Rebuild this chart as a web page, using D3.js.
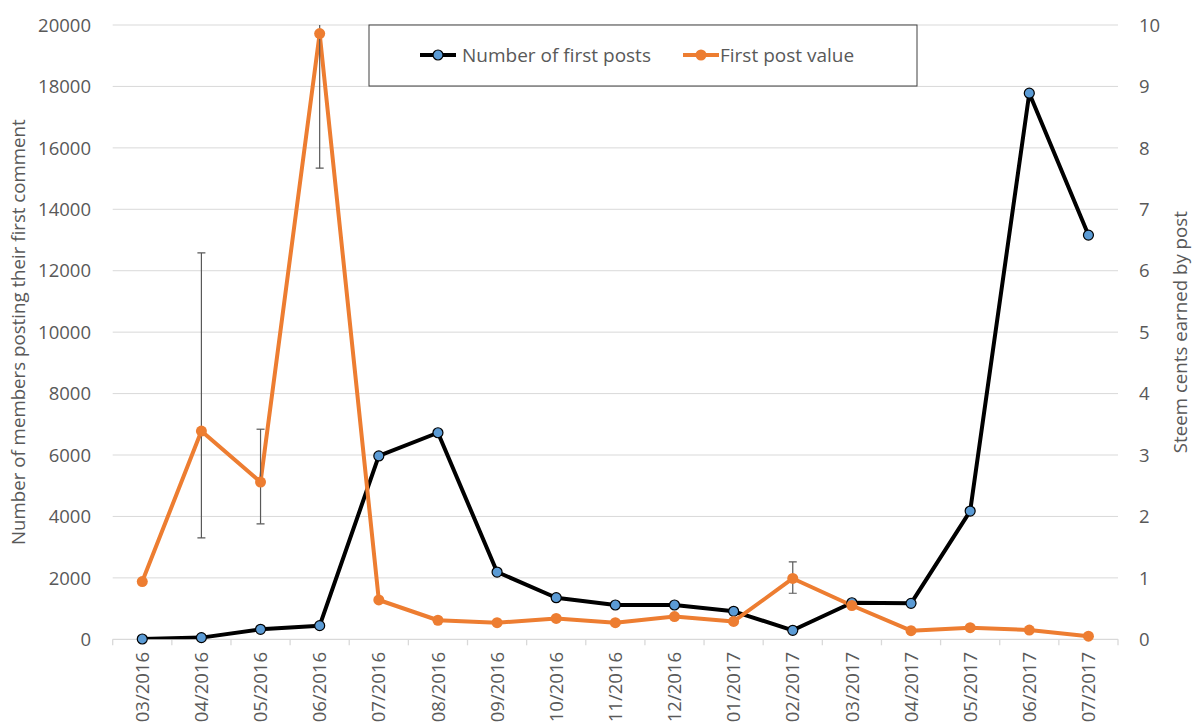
<!DOCTYPE html>
<html><head><meta charset="utf-8">
<script src="https://cdn.jsdelivr.net/npm/d3@7"></script>
<style>body{margin:0;background:#fff;}svg text{font-family:"Open Sans",sans-serif;fill:#595959;}</style>
</head><body><svg id="c" width="1192" height="727"></svg>
<script>
const categories = ["03/2016","04/2016","05/2016","06/2016","07/2016","08/2016","09/2016","10/2016","11/2016","12/2016","01/2017","02/2017","03/2017","04/2017","05/2017","06/2017","07/2017"];
const firstPosts = [10, 55, 325, 445, 5970, 6725, 2190, 1354, 1117, 1117, 912, 293, 1190, 1170, 4175, 17780, 13160];
const postValue = [0.94, 3.39, 2.56, 9.86, 0.64, 0.31, 0.27, 0.34, 0.27, 0.37, 0.29, 0.99, 0.55, 0.14, 0.19, 0.15, 0.05];
const errLow  = [null, 1.65, 1.88, 7.67, null, null, null, 0.31, null, null, null, 0.75, 0.52, null, null, null, null];
const errHigh = [null, 6.29, 3.42, 10.5, null, null, null, 0.38, null, null, null, 1.26, 0.58, null, null, null, null];
const leftTicks = [0,2000,4000,6000,8000,10000,12000,14000,16000,18000,20000];
const rightTicks = [0,1,2,3,4,5,6,7,8,9,10];
const seriesNames = ["Number of first posts","First post value"];

const svg = d3.select("#c");
const L = 112.7, R = 1118, T = 25, B = 639.3;
const x = d3.scaleBand().domain(categories).range([L, R]);
const yL = d3.scaleLinear().domain([0, 20000]).range([B, T]);
const yR = d3.scaleLinear().domain([0, 10]).range([B, T]);
const cx = d => x(d) + x.bandwidth()/2;

svg.append("defs").append("clipPath").attr("id","clip").append("rect")
  .attr("x", L).attr("y", T).attr("width", R-L).attr("height", B-T);

// gridlines
svg.append("g").selectAll("line").data(leftTicks.filter(d=>d>0)).join("line")
  .attr("x1", L).attr("x2", R).attr("y1", d=>yL(d)).attr("y2", d=>yL(d))
  .attr("stroke", "#d9d9d9").attr("stroke-width", 1);

// bottom axis line and ticks
svg.append("line").attr("x1", L).attr("x2", R).attr("y1", B).attr("y2", B).attr("stroke","#d9d9d9").attr("stroke-width",1.3);
const bounds = categories.map(c => x(c)).concat([R]);
svg.append("g").selectAll("line").data(bounds).join("line")
  .attr("x1", d=>d).attr("x2", d=>d).attr("y1", B).attr("y2", B+6)
  .attr("stroke","#d9d9d9").attr("stroke-width",1.3);

// left tick labels
svg.append("g").selectAll("text").data(leftTicks).join("text")
  .attr("x", 91).attr("y", d=>yL(d)).attr("dy","0.36em").attr("text-anchor","end")
  .attr("font-size", 18.5).text(d=>d);
// right tick labels
svg.append("g").selectAll("text").data(rightTicks).join("text")
  .attr("x", 1139).attr("y", d=>yR(d)).attr("dy","0.36em").attr("text-anchor","start")
  .attr("font-size", 18.5).text(d=>d);
// x labels
svg.append("g").selectAll("text").data(categories).join("text")
  .attr("transform", d=>`translate(${cx(d)},652) rotate(-90)`)
  .attr("dy","0.36em").attr("text-anchor","end").attr("font-size", 18.5).text(d=>d);

// axis titles
svg.append("text").attr("transform", `translate(18,${(T+B)/2}) rotate(-90)`)
  .attr("text-anchor","middle").attr("dy","0.36em").attr("font-size", 18.7)
  .text("Number of members posting their first comment");
svg.append("text").attr("transform", `translate(1180,${(T+B)/2}) rotate(-90)`)
  .attr("text-anchor","middle").attr("dy","0.36em").attr("font-size", 18.7)
  .text("Steem cents earned by post");

const plot = svg.append("g").attr("clip-path","url(#clip)");

// black series
const lineL = d3.line().x((d,i)=>cx(categories[i])).y(d=>yL(d));
plot.append("path").datum(firstPosts).attr("d", lineL).attr("fill","none")
  .attr("stroke","#000").attr("stroke-width",4).attr("stroke-linejoin","round");
svg.append("g").selectAll("circle").data(firstPosts).join("circle")
  .attr("cx",(d,i)=>cx(categories[i])).attr("cy", d=>yL(d)).attr("r",5)
  .attr("fill","#5b9bd5").attr("stroke","#000").attr("stroke-width",1.2);

// orange series
const lineR = d3.line().x((d,i)=>cx(categories[i])).y(d=>yR(d));
plot.append("path").datum(postValue).attr("d", lineR).attr("fill","none")
  .attr("stroke","#ed7d31").attr("stroke-width",4).attr("stroke-linejoin","round");
svg.append("g").selectAll("circle").data(postValue).join("circle")
  .attr("cx",(d,i)=>cx(categories[i])).attr("cy", d=>yR(d)).attr("r",5.5)
  .attr("fill","#ed7d31");

// error bars
const eb = categories.map((c,i)=>({c, lo: errLow[i], hi: errHigh[i]})).filter(d=>d.lo!==null);
const eg = plot.append("g").attr("stroke","#595959").attr("stroke-width",1.2);
eb.forEach(d=>{
  const X = cx(d.c);
  eg.append("line").attr("x1",X).attr("x2",X).attr("y1",yR(d.lo)).attr("y2",yR(d.hi));
  eg.append("line").attr("x1",X-4).attr("x2",X+4).attr("y1",yR(d.lo)).attr("y2",yR(d.lo));
  eg.append("line").attr("x1",X-4).attr("x2",X+4).attr("y1",yR(d.hi)).attr("y2",yR(d.hi));
});

// legend
const lg = svg.append("g");
lg.append("rect").attr("x",369).attr("y",25).attr("width",548).attr("height",61)
  .attr("fill","#fff").attr("stroke","#404040").attr("stroke-width",1);
const items = [{name:seriesNames[0], x:420, tx:462, line:"#000", fill:"#5b9bd5", stroke:"#000", r:5},
               {name:seriesNames[1], x:683, tx:720, line:"#ed7d31", fill:"#ed7d31", stroke:"none", r:5.5}];
items.forEach(it=>{
  lg.append("line").attr("x1",it.x).attr("x2",it.x+36).attr("y1",55).attr("y2",55)
    .attr("stroke",it.line).attr("stroke-width",4);
  lg.append("circle").attr("cx",it.x+18).attr("cy",55).attr("r",it.r)
    .attr("fill",it.fill).attr("stroke",it.stroke).attr("stroke-width",1.2);
  lg.append("text").attr("x",it.tx).attr("y",55).attr("dy","0.36em")
    .attr("font-size",19).text(it.name);
});
</script></body></html>
